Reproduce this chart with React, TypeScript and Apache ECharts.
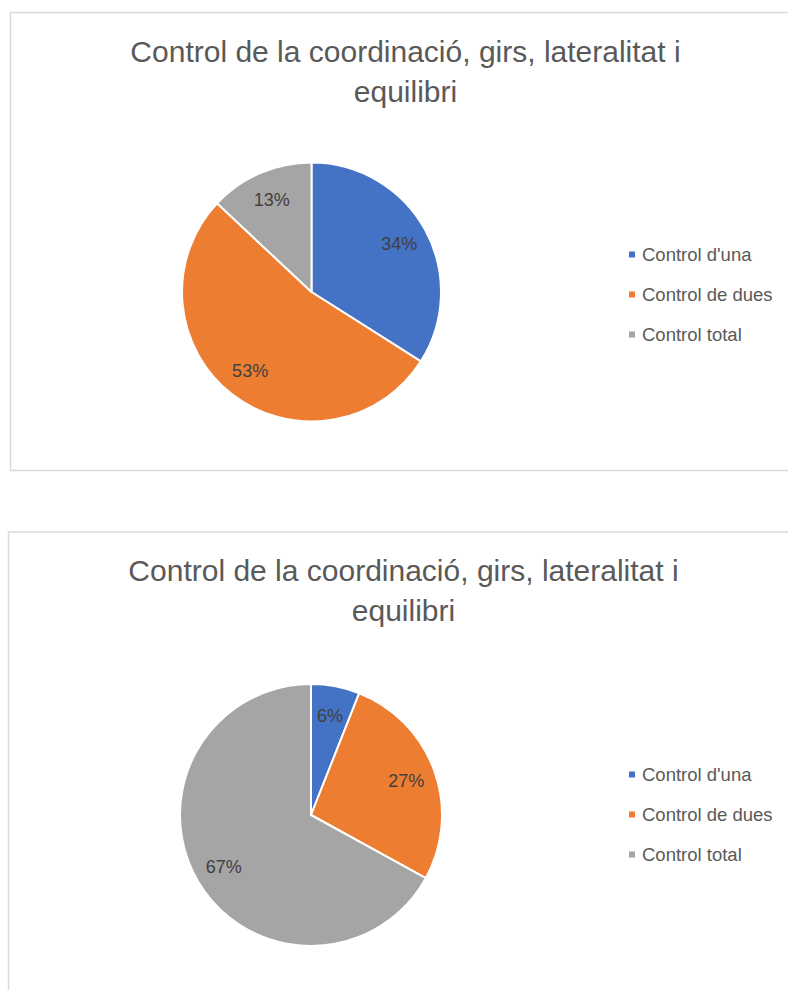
import React, { useEffect, useRef } from "react";
import * as echarts from "echarts";

const TITLE = "Control de la coordinació, girs, lateralitat i\nequilibri";
const CATEGORIES = ["Control d'una", "Control de dues", "Control total"];
const CHART1_VALUES = [34, 53, 13];
const CHART2_VALUES = [6, 27, 67];
const COLORS = ["#4472C4", "#ED7D31", "#A5A5A5"];

const FONT = "'Liberation Sans', Arial, sans-serif";

export default function App() {
  const ref = useRef<HTMLDivElement>(null);

  useEffect(() => {
    if (!ref.current) return;
    const chart = echarts.init(ref.current, undefined, { renderer: "svg" });

    const mk = (vals: number[]) =>
      CATEGORIES.map((name, i) => ({ name, value: vals[i] }));

    const charts = [
      { vals: CHART1_VALUES, cx: 311.5, cy: 292, r: 129.5, titleX: 405.5, titleY: 31.5, legendTop: 244.5 },
      { vals: CHART2_VALUES, cx: 311, cy: 815, r: 131, titleX: 403.5, titleY: 550.5, legendTop: 764.5 },
    ];

    const series: any[] = [];
    charts.forEach((c) => {
      series.push({
        type: "pie",
        center: [c.cx, c.cy],
        radius: [0, c.r],
        startAngle: 90,
        clockwise: true,
        silent: true,
        data: mk(c.vals),
        itemStyle: { borderColor: "#ffffff", borderWidth: 2 },
        label: { show: false },
        labelLine: { show: false },
        emphasis: { disabled: true },
      });
    });
    charts.forEach((c) => {
      series.push({
        type: "pie",
        center: [c.cx, c.cy],
        radius: [c.r * 0.5, c.r],
        startAngle: 90,
        clockwise: true,
        silent: true,
        data: mk(c.vals),
        itemStyle: { color: "rgba(0,0,0,0)", borderWidth: 0 },
        label: {
          show: true,
          position: "inside",
          formatter: "{c}%",
          fontFamily: FONT,
          fontSize: 18,
          color: "#404040",
        },
        labelLine: { show: false },
        emphasis: { disabled: true },
      });
    });

    chart.setOption({
      animation: false,
      backgroundColor: "#ffffff",
      color: COLORS,
      title: charts.map((c) => ({
        text: TITLE,
        left: c.titleX,
        top: c.titleY,
        textAlign: "center",
        padding: 0,
        textStyle: {
          fontFamily: FONT,
          fontSize: 30,
          fontWeight: "normal",
          color: "#595959",
          lineHeight: 40,
        },
      })),
      legend: charts.map((c) => ({
        orient: "vertical",
        left: 627,
        top: c.legendTop,
        padding: 0,
        itemWidth: 8,
        itemHeight: 8,
        itemGap: 20,
        icon: "rect",
        selectedMode: false,
        data: CATEGORIES,
        textStyle: {
          fontFamily: FONT,
          fontSize: 18.5,
          color: "#595959",
          lineHeight: 20,
          padding: [0, 0, 0, 1],
        },
      })),
      graphic: [
        {
          type: "rect",
          silent: true,
          shape: { x: 10.5, y: 12.5, width: 800, height: 458 },
          style: { fill: "none", stroke: "#d9d9d9", lineWidth: 1.5 },
        },
        {
          type: "rect",
          silent: true,
          shape: { x: 8.5, y: 532, width: 800, height: 500 },
          style: { fill: "none", stroke: "#d9d9d9", lineWidth: 1.5 },
        },
      ],
      series,
    });

    return () => chart.dispose();
  }, []);

  return (
    <div
      ref={ref}
      style={{ position: "absolute", left: 0, top: 0, width: 788, height: 990 }}
    />
  );
}
